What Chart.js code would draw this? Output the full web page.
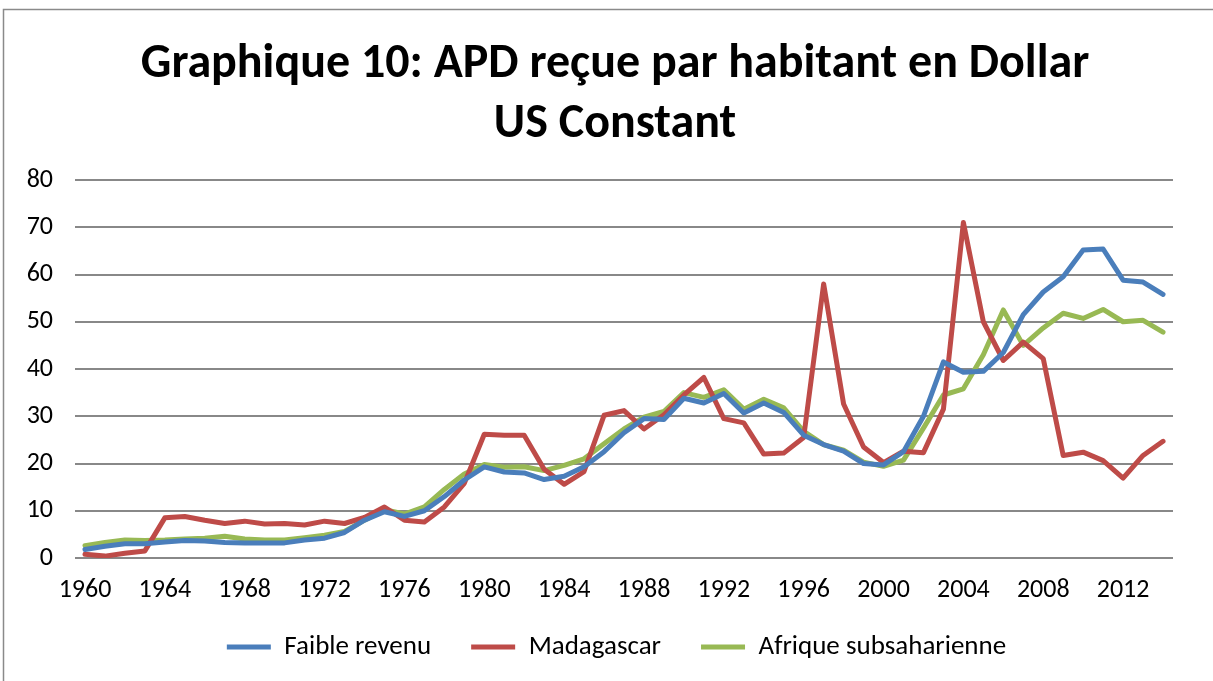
<!DOCTYPE html>
<html><head><meta charset="utf-8">
<script src="https://cdn.jsdelivr.net/npm/chart.js@4.4.1/dist/chart.umd.min.js"></script>
<style>html,body{margin:0;padding:0;background:#fff;overflow:hidden}#wrap{position:relative;width:1213px;height:681px}</style>
</head><body><div id="wrap"><canvas id="c" width="1213" height="681"></canvas></div>
<script>
const years = ["1960","1961","1962","1963","1964","1965","1966","1967","1968","1969",
"1970","1971","1972","1973","1974","1975","1976","1977","1978","1979",
"1980","1981","1982","1983","1984","1985","1986","1987","1988","1989",
"1990","1991","1992","1993","1994","1995","1996","1997","1998","1999",
"2000","2001","2002","2003","2004","2005","2006","2007","2008","2009",
"2010","2011","2012","2013","2014"];

const faibleRevenu = [1.8,2.5,3.0,3.0,3.4,3.7,3.6,3.3,3.2,3.2,
3.2,3.8,4.2,5.4,8.0,9.8,8.8,10.0,13.0,16.5,
19.3,18.2,18.0,16.6,17.3,19.3,22.5,26.5,29.5,29.3,
33.8,32.8,34.8,30.7,32.8,30.8,26.0,24.0,22.6,20.0,
19.7,22.5,30.0,41.5,39.3,39.5,43.5,51.5,56.3,59.5,
65.2,65.4,58.8,58.4,55.8];

const madagascar = [0.8,0.4,1.0,1.5,8.5,8.8,8.0,7.3,7.8,7.2,
7.3,7.0,7.8,7.3,8.6,10.8,8.0,7.6,10.8,15.8,
26.2,26.0,26.0,18.8,15.6,18.3,30.2,31.2,27.3,30.3,
34.5,38.2,29.5,28.6,22.0,22.2,25.5,58.0,32.6,23.5,
20.2,22.6,22.3,31.5,71.0,50.0,41.8,45.7,42.2,21.7,
22.4,20.6,16.9,21.7,24.7];

const afriqueSub = [2.6,3.3,3.8,3.7,3.8,4.0,4.2,4.6,4.0,3.8,
3.8,4.3,4.8,5.6,8.0,10.2,9.3,10.8,14.5,17.8,
19.8,19.2,19.3,18.5,19.6,21.0,24.2,27.3,29.8,31.0,
35.0,34.0,35.6,31.5,33.6,31.8,26.8,24.0,22.8,20.3,
19.4,20.7,27.5,34.5,35.8,43.0,52.5,45.0,48.7,51.8,
50.7,52.6,50.0,50.3,47.8];

const seriesNames = ["Faible revenu","Madagascar","Afrique subsaharienne"];
const titleLines = ["Graphique 10: APD reçue par habitant en Dollar","US Constant"];
const yMin = 0, yMax = 80, yStep = 10;
const xLabelEvery = 4;

const FONT = "Carlito, Lato, 'Liberation Sans', sans-serif";
const colors = ["#4a7ebb","#be4b48","#98b954"];

const frame = {
  id: 'frame',
  beforeDraw(chart) {
    const ctx = chart.ctx;
    ctx.save();
    ctx.strokeStyle = '#8a8a8a';
    ctx.lineWidth = 1.5;
    ctx.strokeRect(3.5, 9.5, 1230, 700);
    ctx.restore();
  }
};

// centre title and legend over the page like the original, and let x labels overflow their box
const adjust = {
  id: 'adjust',
  afterLayout(chart) {
    if (chart.titleBlock) { chart.titleBlock.left = 57; chart.titleBlock.right = 1173; chart.titleBlock.width = 1116; }
    if (chart.legend) { chart.legend.left = 60; chart.legend.right = 1173; chart.legend.width = 1113; }
    chart.scales.x._computeLabelArea = () => undefined;
  }
};

new Chart(document.getElementById('c'), {
  type: 'line',
  data: {
    labels: years,
    datasets: [
      {label: seriesNames[0], data: faibleRevenu, borderColor: colors[0], backgroundColor: colors[0]},
      {label: seriesNames[1], data: madagascar, borderColor: colors[1], backgroundColor: colors[1]},
      {label: seriesNames[2], data: afriqueSub, borderColor: colors[2], backgroundColor: colors[2]}
    ]
  },
  options: {
    responsive: false,
    animation: false,
    devicePixelRatio: 1,
    elements: {
      line: {borderWidth: 5, tension: 0, borderJoinStyle: 'round', borderCapStyle: 'round'},
      point: {radius: 0, hoverRadius: 0}
    },
    layout: {padding: {left: 10, right: 40, top: 0, bottom: 10.5}},
    plugins: {
      title: {
        display: true,
        text: titleLines,
        color: '#000',
        font: {family: FONT, size: 48, weight: 'bold', lineHeight: 1.25},
        padding: {top: 35, bottom: 25}
      },
      legend: {
        position: 'bottom',
        labels: {
          color: '#000',
          font: {family: FONT, size: 27},
          boxWidth: 44,
          boxHeight: 5,
          padding: 40,
          generateLabels(chart) {
            return chart.data.datasets.map((ds, i) => ({
              text: ds.label, fillStyle: ds.borderColor, strokeStyle: ds.borderColor,
              lineWidth: 0, hidden: false, datasetIndex: i, fontColor: '#000'
            }));
          }
        }
      },
      tooltip: {enabled: false}
    },
    scales: {
      x: {
        type: 'category',
        offset: true,
        grid: {display: false, drawTicks: false},
        border: {display: false},
        ticks: {
          autoSkip: false, maxRotation: 0, minRotation: 0,
          color: '#000', font: {family: FONT, size: 26}, padding: 17,
          callback: (v, i) => (i % xLabelEvery === 0 ? years[i] : '')
        },
        afterFit: s => { s.height = 35.5; }
      },
      y: {
        min: yMin, max: yMax,
        grid: {color: '#888888', lineWidth: 2, drawTicks: false},
        border: {display: false},
        ticks: {stepSize: yStep, color: '#000', font: {family: FONT, size: 26}, padding: 22},
        afterFit: s => { s.width = 65; }
      }
    }
  },
  plugins: [frame, adjust]
});
</script>
</body></html>
